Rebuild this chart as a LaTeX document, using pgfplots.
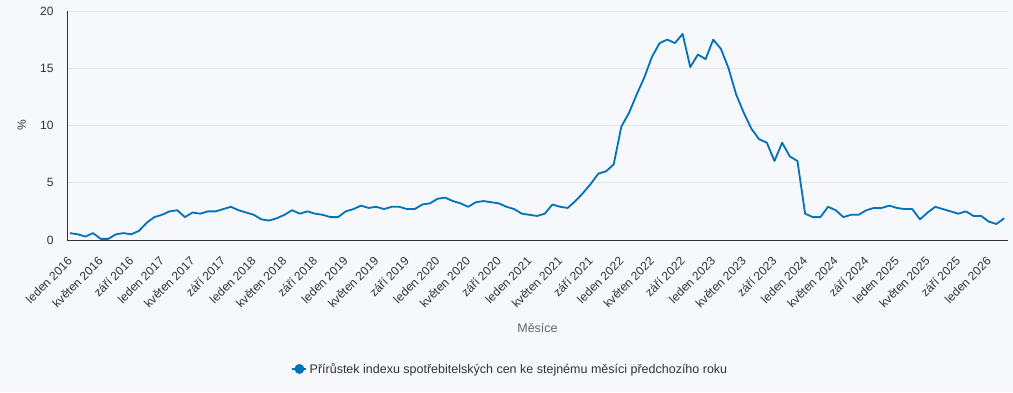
\documentclass[border=0pt]{standalone}
\usepackage{fontspec}
\setmainfont{Liberation Sans}
\usepackage{pgfplots}
\pgfplotsset{compat=1.18}
\definecolor{bg}{RGB}{247,248,252}
\definecolor{cpiline}{RGB}{0,114,188}
\definecolor{gridc}{RGB}{226,228,232}
\definecolor{txt}{RGB}{51,51,51}
\definecolor{axc}{RGB}{51,51,51}
\definecolor{lblc}{RGB}{102,102,102}
\begin{document}
\begin{tikzpicture}[x=1pt,y=1pt]
\fill[bg] (0,0) rectangle (1013,392);
\begin{axis}[
  at={(67pt,152pt)}, anchor=south west,
  width=941pt, height=229pt, scale only axis,
  xmin=-0.4, xmax=122.5, ymin=0, ymax=20,
  axis x line*=bottom, axis y line*=left,
  axis line style={axc, line width=1pt},
  ymajorgrids, grid style={gridc, line width=0.8pt},
  major tick length=0pt,
  ytick={0,5,10,15,20},
  xtick={0,4,...,120},
  xticklabels={leden 2016,květen 2016,září 2016,leden 2017,květen 2017,září 2017,leden 2018,květen 2018,září 2018,leden 2019,květen 2019,září 2019,leden 2020,květen 2020,září 2020,leden 2021,květen 2021,září 2021,leden 2022,květen 2022,září 2022,leden 2023,květen 2023,září 2023,leden 2024,květen 2024,září 2024,leden 2025,květen 2025,září 2025,leden 2026},
  /pgf/number format/assume math mode=true,
  tick label style={font=\fontsize{12}{14}\selectfont, text=txt},
  xticklabel style={yshift=-19pt, xshift=0pt, rotate=45, anchor=east, inner sep=0pt},
  yticklabel style={xshift=-10pt},
  xlabel={Měsíce},
  xlabel style={at={(axis description cs:0.5,-0.384)}, anchor=center, font=\fontsize{12.5}{14}\selectfont, text=lblc},
  ylabel={\%},
  ylabel style={at={(axis description cs:-0.048,0.502)}, anchor=center, rotate=0, font=\fontsize{12}{14}\selectfont, text=txt},
  legend style={at={(0.471,-0.563)}, anchor=center, draw=none, fill=none, font=\fontsize{12.5}{14}\selectfont, text=txt, inner sep=0pt},
  legend cell align=left,
  clip=false,
]
\addplot[cpiline, line width=1.8pt, line join=round,
  legend image code/.code={\draw[cpiline, line width=2.5pt] (-3pt,0pt) -- (11pt,0pt); \fill[cpiline] (4pt,0pt) circle (4pt);}]
  table[row sep=\\] {
x y\\
0 0.6\\ 1 0.5\\ 2 0.3\\ 3 0.6\\ 4 0.1\\ 5 0.1\\ 6 0.5\\ 7 0.6\\ 8 0.5\\ 9 0.8\\ 10 1.5\\ 11 2.0\\
12 2.2\\ 13 2.5\\ 14 2.6\\ 15 2.0\\ 16 2.4\\ 17 2.3\\ 18 2.5\\ 19 2.5\\ 20 2.7\\ 21 2.9\\ 22 2.6\\ 23 2.4\\
24 2.2\\ 25 1.8\\ 26 1.7\\ 27 1.9\\ 28 2.2\\ 29 2.6\\ 30 2.3\\ 31 2.5\\ 32 2.3\\ 33 2.2\\ 34 2.0\\ 35 2.0\\
36 2.5\\ 37 2.7\\ 38 3.0\\ 39 2.8\\ 40 2.9\\ 41 2.7\\ 42 2.9\\ 43 2.9\\ 44 2.7\\ 45 2.7\\ 46 3.1\\ 47 3.2\\
48 3.6\\ 49 3.7\\ 50 3.4\\ 51 3.2\\ 52 2.9\\ 53 3.3\\ 54 3.4\\ 55 3.3\\ 56 3.2\\ 57 2.9\\ 58 2.7\\ 59 2.3\\
60 2.2\\ 61 2.1\\ 62 2.3\\ 63 3.1\\ 64 2.9\\ 65 2.8\\ 66 3.4\\ 67 4.1\\ 68 4.9\\ 69 5.8\\ 70 6.0\\ 71 6.6\\
72 9.9\\ 73 11.1\\ 74 12.7\\ 75 14.2\\ 76 16.0\\ 77 17.2\\ 78 17.5\\ 79 17.2\\ 80 18.0\\ 81 15.1\\ 82 16.2\\ 83 15.8\\
84 17.5\\ 85 16.7\\ 86 15.0\\ 87 12.7\\ 88 11.1\\ 89 9.7\\ 90 8.8\\ 91 8.5\\ 92 6.9\\ 93 8.5\\ 94 7.3\\ 95 6.9\\
96 2.3\\ 97 2.0\\ 98 2.0\\ 99 2.9\\ 100 2.6\\ 101 2.0\\ 102 2.2\\ 103 2.2\\ 104 2.6\\ 105 2.8\\ 106 2.8\\ 107 3.0\\
108 2.8\\ 109 2.7\\ 110 2.7\\ 111 1.8\\ 112 2.4\\ 113 2.9\\ 114 2.7\\ 115 2.5\\ 116 2.3\\ 117 2.5\\ 118 2.1\\ 119 2.1\\
120 1.6\\ 121 1.4\\ 122 1.9\\
};
\addlegendentry{Přírůstek indexu spotřebitelských cen ke stejnému měsíci předchozího roku}
\end{axis}
\pgfresetboundingbox
\path (0,0) rectangle (1013,392);
\end{tikzpicture}
\end{document}
